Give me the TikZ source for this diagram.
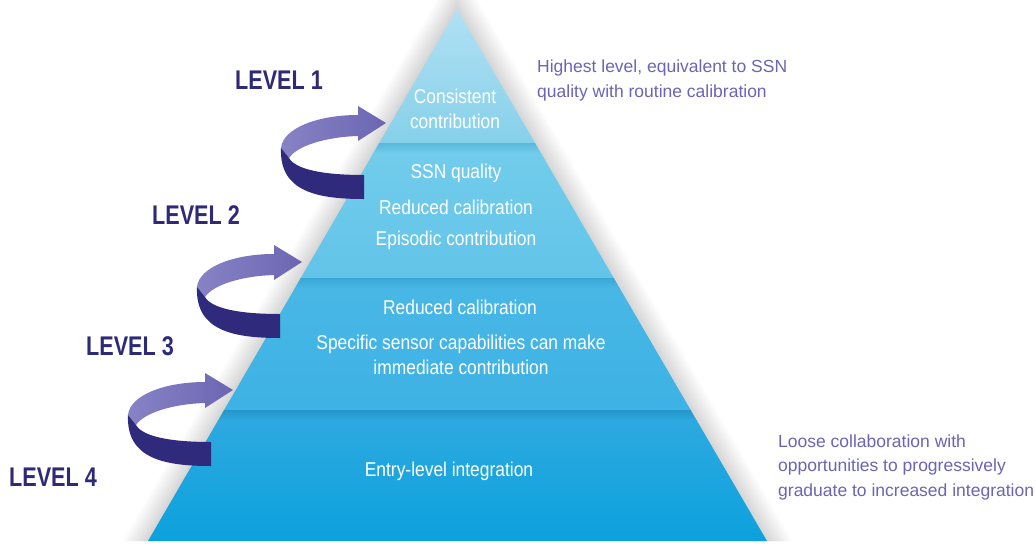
\documentclass[tikz,border=0pt]{standalone}
\usepackage{fontspec}
\setmainfont{Liberation Sans}
\newfontfamily\narrowfont[FakeStretch=0.87]{Liberation Sans}
\newfontfamily\levelfont[FakeStretch=0.8]{Liberation Sans}
\definecolor{navy}{HTML}{2E2A78}
\definecolor{lav}{HTML}{6B65B5}
\definecolor{arrLa}{HTML}{8783C5}
\definecolor{arrLb}{HTML}{6C66B3}
\definecolor{arrD}{HTML}{2F2A7C}
\definecolor{bAt}{HTML}{B4E2F4}
\definecolor{bAb}{HTML}{86D0EA}
\definecolor{bBs}{HTML}{5AB8DC}
\definecolor{bBt}{HTML}{72CCEB}
\definecolor{bBb}{HTML}{62C4E9}
\definecolor{bCs}{HTML}{3AA6D4}
\definecolor{bCt}{HTML}{48B7E6}
\definecolor{bCb}{HTML}{3DB2E4}
\definecolor{bDs}{HTML}{2496C9}
\definecolor{bDt}{HTML}{2DA9E0}
\definecolor{bDb}{HTML}{0BA1DD}
\begin{document}
\begin{tikzpicture}[x=1pt,y=-1pt,
  ptext/.style={text=white, font=\narrowfont\fontsize{20}{24.5}\selectfont, align=center, inner sep=0pt},
  lvl/.style={text=navy, font=\levelfont\bfseries\fontsize{27}{30}\selectfont, inner sep=0pt},
  note/.style={text=lav, font=\fontsize{17.5}{24.5}\selectfont, align=left, anchor=west, inner sep=0pt},
  lvlarrow/.pic={
    \shade[left color=arrLa, right color=arrLb]
      (281,148) .. controls (283,128) and (318,115) .. (358,115) -- (358,106) -- (386,123)
      -- (358,141) -- (358,136) .. controls (325,137) and (297,146) .. (289,158) -- cycle;
    \fill[arrD]
      (281,148) .. controls (279,192) and (318,199) .. (364,199) -- (364,175)
      .. controls (325,175) and (296,170) .. (289,158) -- cycle;
  }]
\useasboundingbox (0,0) rectangle (1036,544);
\fill[white] (0,0) rectangle (1036,544);
% soft shadow around the pyramid
\foreach \i in {1,...,10}
  \fill[black, opacity=0.014] (457,{9-4.3*\i}) -- ({767+2.5*\i},541) -- ({148-2.5*\i},541) -- cycle;
% pyramid
\coordinate (apex) at (457,9);
\coordinate (bl) at (148,541);
\coordinate (br) at (767,541);
\begin{scope}
  \clip (apex) -- (br) -- (bl) -- cycle;
  \shade[top color=bAt, bottom color=bAb] (100,0) rectangle (800,143);
  \shade[top color=bBs, bottom color=bBt] (100,143) rectangle (800,153);
  \shade[top color=bBt, bottom color=bBb] (100,153) rectangle (800,278);
  \shade[top color=bCs, bottom color=bCt] (100,278) rectangle (800,288);
  \shade[top color=bCt, bottom color=bCb] (100,288) rectangle (800,410);
  \shade[top color=bDs, bottom color=bDt] (100,410) rectangle (800,420);
  \shade[top color=bDt, bottom color=bDb] (100,420) rectangle (800,545);
\end{scope}
% texts in the pyramid
\node[ptext] (t1) at (455,109) {Consistent\\contribution};
\node[ptext] (t2a) at (456,173) {SSN quality};
\node[ptext] (t2b) at (456,207) {Reduced calibration};
\node[ptext] (t2c) at (456,240) {Episodic contribution};
\node[ptext] (t3a) at (460,307) {Reduced calibration};
\node[ptext] (t3b) at (461,355) {Specific sensor capabilities can make\\immediate contribution};
\node[ptext] (t4) at (449,471) {Entry-level integration};
% level arrows
\pic at (0,0) {lvlarrow};
\pic at (-84,139) {lvlarrow};
\pic at (-153,267) {lvlarrow};
% level labels
\node[lvl] (L1) at (279,80) {LEVEL 1};
\node[lvl] (L2) at (196,215) {LEVEL 2};
\node[lvl] (L3) at (130,346) {LEVEL 3};
\node[lvl] (L4) at (53,477) {LEVEL 4};
% notes
\node[note] (n1) at (537,80.5) {Highest level, equivalent to SSN\\quality with routine calibration};
\node[note] (n2) at (778,467) {Loose collaboration with\\opportunities to progressively\\graduate to increased integration};
\end{tikzpicture}
\end{document}
